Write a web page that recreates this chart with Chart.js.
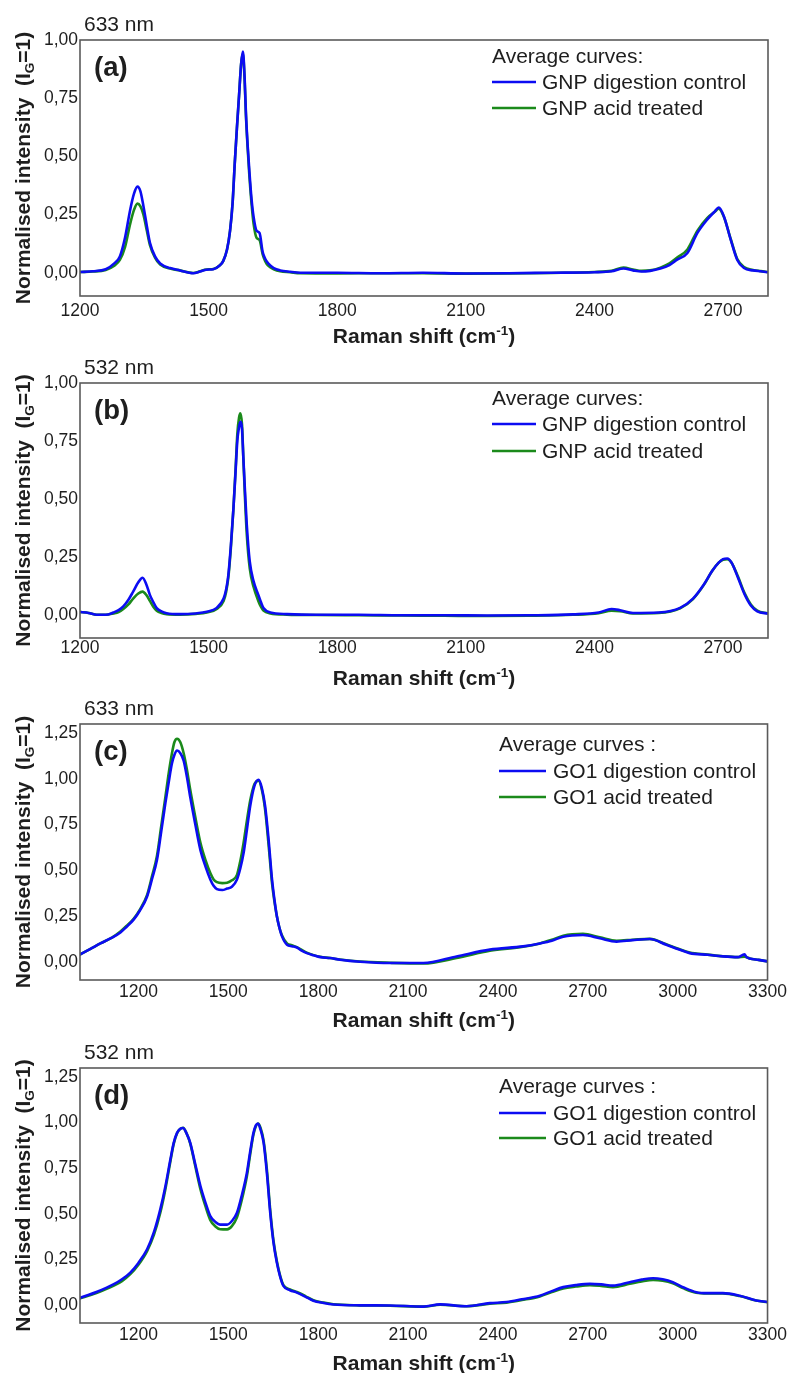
<!DOCTYPE html>
<html>
<head>
<meta charset="utf-8">
<script src="https://cdn.jsdelivr.net/npm/chart.js@4/dist/chart.umd.min.js"></script>
<style>
body { margin: 0; background: #fff; }
#wrap { position: relative; width: 789px; height: 1373px; }
canvas { position: absolute; left: 0; }
</style>
</head>
<body>
<div id="wrap">
<canvas id="chart_a" width="789" height="352" style="top:0px"></canvas>
<canvas id="chart_b" width="789" height="352" style="top:343px"></canvas>
<canvas id="chart_c" width="789" height="352" style="top:684px"></canvas>
<canvas id="chart_d" width="789" height="345" style="top:1028px"></canvas>
</div>
<script>
// tick labels
const xTicksGNP = [1200, 1500, 1800, 2100, 2400, 2700];
const xTicksGO = [1200, 1500, 1800, 2100, 2400, 2700, 3000, 3300];
const yTicksGNP = [0, 0.25, 0.5, 0.75, 1.0];
const yTicksGO = [0, 0.25, 0.5, 0.75, 1.0, 1.25];

// (a) 633 nm, GNP
const shiftA = [1200, 1230, 1260, 1280, 1293, 1305, 1317, 1326, 1334, 1341, 1348, 1356, 1363, 1375, 1387, 1410, 1433, 1464, 1480, 1495, 1511, 1525, 1534, 1543, 1550, 1556, 1561, 1566, 1571, 1576, 1580, 1584, 1587, 1591, 1595, 1600, 1605, 1612, 1619, 1626, 1632, 1639, 1652, 1667, 1690, 1714, 1800, 1900, 2000, 2100, 2200, 2300, 2400, 2440, 2468, 2490, 2510, 2530, 2554, 2575, 2593, 2617, 2640, 2663, 2681, 2690, 2702, 2718, 2733, 2749, 2770, 2788, 2805];
const controlA = [0.003, 0.006, 0.015, 0.04, 0.07, 0.15, 0.27, 0.34, 0.37, 0.35, 0.286, 0.2, 0.13, 0.07, 0.04, 0.02, 0.01, -0.002, 0.005, 0.013, 0.015, 0.03, 0.05, 0.1, 0.18, 0.3, 0.47, 0.62, 0.76, 0.9, 0.95, 0.84, 0.69, 0.55, 0.44, 0.32, 0.24, 0.18, 0.17, 0.09, 0.06, 0.04, 0.02, 0.01, 0.004, 0.0, 0.0, -0.002, 0.0, -0.003, -0.002, 0.0, 0.002, 0.006, 0.018, 0.01, 0.005, 0.008, 0.018, 0.033, 0.056, 0.085, 0.17, 0.228, 0.264, 0.28, 0.243, 0.142, 0.056, 0.02, 0.01, 0.006, 0.002];
const acidA = [0.003, 0.005, 0.012, 0.03, 0.055, 0.11, 0.21, 0.27, 0.297, 0.285, 0.25, 0.18, 0.12, 0.065, 0.035, 0.018, 0.01, -0.001, 0.006, 0.014, 0.016, 0.03, 0.05, 0.1, 0.18, 0.3, 0.47, 0.62, 0.76, 0.9, 0.94, 0.83, 0.68, 0.54, 0.42, 0.3, 0.21, 0.15, 0.14, 0.08, 0.05, 0.03, 0.015, 0.006, 0.002, -0.002, -0.003, -0.002, -0.002, -0.004, -0.003, -0.001, 0.003, 0.008, 0.022, 0.014, 0.008, 0.01, 0.022, 0.04, 0.065, 0.1, 0.18, 0.235, 0.262, 0.275, 0.24, 0.145, 0.06, 0.024, 0.012, 0.007, 0.003];

// (b) 532 nm, GNP
const shiftB = [1200, 1220, 1239, 1260, 1278, 1290, 1301, 1313, 1324, 1336, 1346, 1355, 1363, 1371, 1379, 1390, 1402, 1433, 1470, 1496, 1519, 1535, 1541, 1546, 1552, 1558, 1563, 1567, 1571, 1574, 1578, 1581, 1585, 1589, 1596, 1605, 1616, 1622, 1628, 1644, 1683, 1750, 1850, 1950, 2050, 2150, 2250, 2350, 2410, 2440, 2460, 2490, 2550, 2600, 2630, 2655, 2675, 2690, 2700, 2710, 2720, 2735, 2750, 2765, 2780, 2805];
const controlB = [0.012, 0.008, 0.0, 0.0, 0.01, 0.02, 0.036, 0.065, 0.1, 0.14, 0.16, 0.13, 0.086, 0.055, 0.029, 0.015, 0.007, 0.003, 0.006, 0.013, 0.03, 0.07, 0.11, 0.17, 0.3, 0.46, 0.62, 0.75, 0.81, 0.833, 0.8, 0.68, 0.53, 0.39, 0.23, 0.144, 0.086, 0.055, 0.029, 0.01, 0.003, 0.0, 0.0, -0.002, -0.002, -0.003, -0.002, 0.002, 0.01, 0.025, 0.02, 0.008, 0.01, 0.03, 0.07, 0.13, 0.19, 0.225, 0.24, 0.243, 0.225, 0.16, 0.09, 0.04, 0.015, 0.005];
const acidB = [0.012, 0.008, 0.0, 0.0, 0.006, 0.012, 0.025, 0.045, 0.07, 0.092, 0.1, 0.085, 0.06, 0.035, 0.018, 0.008, 0.003, 0.001, 0.004, 0.01, 0.025, 0.06, 0.1, 0.16, 0.29, 0.46, 0.63, 0.78, 0.85, 0.869, 0.82, 0.68, 0.5, 0.35, 0.2, 0.12, 0.06, 0.035, 0.018, 0.006, 0.001, -0.001, -0.002, -0.003, -0.004, -0.005, -0.004, 0.0, 0.007, 0.018, 0.016, 0.006, 0.008, 0.028, 0.068, 0.128, 0.19, 0.225, 0.238, 0.24, 0.225, 0.165, 0.095, 0.045, 0.018, 0.006];

// (c) 633 nm, GO1
const shiftC = [1000, 1040, 1073, 1110, 1140, 1160, 1184, 1205, 1229, 1245, 1262, 1276, 1290, 1301, 1312, 1320, 1329, 1340, 1351, 1362, 1373, 1390, 1407, 1424, 1440, 1451, 1462, 1480, 1496, 1512, 1529, 1540, 1551, 1562, 1573, 1587, 1601, 1612, 1623, 1635, 1646, 1654, 1662, 1670, 1679, 1696, 1712, 1729, 1745, 1762, 1785, 1807, 1840, 1873, 1940, 2040, 2151, 2262, 2373, 2484, 2540, 2580, 2618, 2684, 2740, 2796, 2850, 2907, 2962, 3000, 3040, 3100, 3151, 3200, 3223, 3230, 3240, 3270, 3300];
const controlC = [0.035, 0.07, 0.1, 0.13, 0.16, 0.19, 0.23, 0.28, 0.357, 0.45, 0.557, 0.71, 0.867, 0.98, 1.085, 1.13, 1.155, 1.14, 1.1, 1.01, 0.9, 0.75, 0.61, 0.52, 0.45, 0.415, 0.397, 0.392, 0.4, 0.41, 0.45, 0.51, 0.594, 0.72, 0.85, 0.96, 0.995, 0.95, 0.85, 0.66, 0.45, 0.34, 0.25, 0.19, 0.14, 0.093, 0.085, 0.078, 0.06, 0.047, 0.035, 0.025, 0.02, 0.011, 0.0, -0.007, -0.007, 0.029, 0.066, 0.084, 0.1, 0.115, 0.137, 0.146, 0.128, 0.11, 0.118, 0.124, 0.093, 0.07, 0.047, 0.038, 0.029, 0.025, 0.04, 0.025, 0.018, 0.01, 0.002];
const acidC = [0.035, 0.07, 0.1, 0.13, 0.165, 0.195, 0.235, 0.285, 0.365, 0.465, 0.58, 0.74, 0.9, 1.03, 1.14, 1.2, 1.219, 1.2, 1.14, 1.05, 0.94, 0.79, 0.65, 0.555, 0.485, 0.45, 0.435, 0.43, 0.432, 0.445, 0.475, 0.55, 0.65, 0.77, 0.88, 0.97, 0.99, 0.94, 0.83, 0.63, 0.43, 0.33, 0.25, 0.19, 0.145, 0.1, 0.09, 0.08, 0.065, 0.05, 0.036, 0.027, 0.02, 0.012, 0.001, -0.006, -0.01, 0.02, 0.06, 0.082, 0.1, 0.12, 0.142, 0.152, 0.134, 0.115, 0.12, 0.125, 0.095, 0.072, 0.05, 0.039, 0.03, 0.025, 0.027, 0.025, 0.018, 0.01, 0.002];

// (d) 532 nm, GO1
const shiftD = [1000, 1060, 1118, 1145, 1173, 1200, 1229, 1252, 1273, 1290, 1307, 1318, 1329, 1339, 1349, 1361, 1373, 1390, 1407, 1424, 1440, 1457, 1473, 1496, 1512, 1529, 1545, 1562, 1573, 1584, 1592, 1599, 1608, 1618, 1629, 1640, 1651, 1662, 1673, 1684, 1706, 1729, 1757, 1784, 1818, 1851, 1940, 2040, 2151, 2207, 2296, 2373, 2429, 2480, 2540, 2580, 2618, 2660, 2707, 2745, 2784, 2840, 2880, 2918, 2950, 2984, 3020, 3062, 3100, 3151, 3207, 3262, 3300];
const controlD = [0.035, 0.07, 0.113, 0.14, 0.177, 0.23, 0.305, 0.4, 0.524, 0.65, 0.8, 0.89, 0.944, 0.965, 0.971, 0.94, 0.889, 0.77, 0.652, 0.56, 0.487, 0.455, 0.44, 0.44, 0.46, 0.505, 0.6, 0.724, 0.84, 0.944, 0.985, 0.995, 0.96, 0.889, 0.72, 0.505, 0.34, 0.232, 0.155, 0.104, 0.08, 0.067, 0.045, 0.022, 0.01, 0.002, -0.003, -0.004, -0.01, 0.002, -0.008, 0.009, 0.015, 0.03, 0.05, 0.075, 0.097, 0.108, 0.115, 0.112, 0.105, 0.124, 0.138, 0.146, 0.14, 0.124, 0.095, 0.069, 0.064, 0.064, 0.05, 0.024, 0.015];
const acidD = [0.033, 0.065, 0.105, 0.13, 0.168, 0.22, 0.295, 0.385, 0.505, 0.635, 0.79, 0.885, 0.942, 0.965, 0.972, 0.94, 0.885, 0.76, 0.635, 0.54, 0.465, 0.43, 0.415, 0.414, 0.432, 0.48, 0.575, 0.705, 0.825, 0.935, 0.98, 0.995, 0.97, 0.9, 0.74, 0.52, 0.35, 0.24, 0.16, 0.108, 0.085, 0.07, 0.048, 0.025, 0.012, 0.003, -0.003, -0.005, -0.01, 0.0, -0.008, 0.006, 0.012, 0.026, 0.046, 0.07, 0.09, 0.1, 0.108, 0.104, 0.097, 0.115, 0.128, 0.136, 0.132, 0.118, 0.09, 0.066, 0.062, 0.062, 0.048, 0.023, 0.014];

const FONT = '"Liberation Sans", Arial, sans-serif';
const INK = '#1e1e1e';
const BLUE = '#0c0cf2';
const GREEN = '#1b8a1b';

const toPoints = (xs, ys) => xs.map((x, i) => ({ x: x, y: ys[i] }));
const fmtComma = v => v.toFixed(2).replace('.', ',');

// frame, panel letters, legend inside the plot, axis titles with sub/superscript
const panelDecor = {
    id: 'panelDecor',
    afterDatasetsDraw(chart, args, opts) {
        const ctx = chart.ctx;
        const a = chart.chartArea;
        ctx.save();

        ctx.strokeStyle = '#5a5a5a';
        ctx.lineWidth = 1.6;
        ctx.strokeRect(a.left, a.top, a.right - a.left, a.bottom - a.top);

        ctx.fillStyle = INK;
        ctx.textBaseline = 'middle';
        ctx.textAlign = 'left';
        ctx.font = '21px ' + FONT;
        ctx.fillText(opts.laser, a.left + 4, a.top + opts.laserDy);

        ctx.font = 'bold 27.5px ' + FONT;
        ctx.fillText(opts.letter, a.left + 14, a.top + opts.letterDy);

        // legend
        const lg = opts.legend;
        ctx.font = '21px ' + FONT;
        ctx.fillText(lg.title, lg.x, a.top + lg.dy[0]);
        chart.data.datasets.forEach((ds, i) => {
            const y = a.top + lg.dy[i + 1];
            ctx.strokeStyle = ds.borderColor;
            ctx.lineWidth = 2.4;
            ctx.beginPath();
            ctx.moveTo(lg.x, y);
            ctx.lineTo(lg.x + lg.swatch, y);
            ctx.stroke();
            ctx.fillText(ds.label, lg.textX, y + 1);
        });

        // x title: Raman shift (cm-1)
        ctx.textBaseline = 'alphabetic';
        const xb = a.bottom + opts.xTitleDy + 7;
        const big = 'bold 21px ' + FONT, small = 'bold 13.5px ' + FONT;
        ctx.font = big;
        const w1 = ctx.measureText('Raman shift (cm').width;
        const w3 = ctx.measureText(')').width;
        ctx.font = small;
        const w2 = ctx.measureText('-1').width;
        let x0 = (a.left + a.right) / 2 - (w1 + w2 + w3) / 2;
        ctx.font = big;
        ctx.fillText('Raman shift (cm', x0, xb);
        ctx.font = small;
        ctx.fillText('-1', x0 + w1, xb - 8);
        ctx.font = big;
        ctx.fillText(')', x0 + w1 + w2, xb);

        // y title: Normalised intensity (I_G=1)
        ctx.translate(29.5, (a.top + a.bottom) / 2);
        ctx.rotate(-Math.PI / 2);
        ctx.font = big;
        const t1 = 'Normalised intensity  (I';
        const u1 = ctx.measureText(t1).width;
        const u3 = ctx.measureText('=1)').width;
        ctx.font = small;
        const u2 = ctx.measureText('G').width;
        const s0 = -(u1 + u2 + u3) / 2;
        ctx.font = big;
        ctx.fillText(t1, s0, 0);
        ctx.font = small;
        ctx.fillText('G', s0 + u1, 4);
        ctx.font = big;
        ctx.fillText('=1)', s0 + u1 + u2, 0);

        ctx.restore();
    }
};

function makePanel(id, cfg) {
    const canvas = document.getElementById(id);
    const top = parseInt(canvas.style.top);
    const h = canvas.height;
    new Chart(canvas, {
        type: 'line',
        data: {
            datasets: [
                { label: cfg.names[0], data: toPoints(cfg.shift, cfg.control), borderColor: BLUE, backgroundColor: BLUE },
                { label: cfg.names[1], data: toPoints(cfg.shift, cfg.acid), borderColor: GREEN, backgroundColor: GREEN }
            ]
        },
        options: {
            responsive: false,
            animation: false,
            devicePixelRatio: 1,
            elements: {
                point: { radius: 0 },
                line: { borderWidth: 2.6, cubicInterpolationMode: 'monotone', fill: false }
            },
            layout: { padding: { top: cfg.plotTop - top, right: 21, left: 0, bottom: 0 } },
            scales: {
                x: {
                    type: 'linear',
                    min: cfg.xMin,
                    max: cfg.xMax,
                    grid: { display: false, drawTicks: false },
                    border: { display: false },
                    afterBuildTicks: s => { s.ticks = cfg.xTicks.map(v => ({ value: v })); },
                    afterFit: s => { s.height = top + h - cfg.plotBottom; },
                    ticks: {
                        autoSkip: false, maxRotation: 0, padding: cfg.xTickPad,
                        color: INK, font: { family: FONT, size: 17.5 },
                        callback: v => String(v)
                    }
                },
                y: {
                    min: -0.1,
                    max: cfg.yMax,
                    grid: { display: false, drawTicks: false },
                    border: { display: false },
                    afterBuildTicks: s => { s.ticks = cfg.yTicks.map(v => ({ value: v })); },
                    afterFit: s => { s.width = 80; },
                    ticks: {
                        autoSkip: false, padding: 2,
                        color: INK, font: { family: FONT, size: 17.5 },
                        callback: v => fmtComma(v)
                    }
                }
            },
            plugins: {
                legend: { display: false },
                tooltip: { enabled: false },
                panelDecor: {
                    laser: cfg.laser, laserDy: -15,
                    letter: cfg.letter, letterDy: 28,
                    xTitleDy: 40,
                    legend: cfg.legend
                }
            }
        },
        plugins: [panelDecor]
    });
}

const namesGNP = ['GNP digestion control', 'GNP acid treated'];
const namesGO = ['GO1 digestion control', 'GO1 acid treated'];

makePanel('chart_a', {
    shift: shiftA, control: controlA, acid: acidA, names: namesGNP,
    laser: '633 nm', letter: '(a)', plotTop: 40, plotBottom: 296,
    xMin: 1200, xMax: 2805, xTicks: xTicksGNP, yMax: 1.0, yTicks: yTicksGNP, xTickPad: 5,
    legend: { title: 'Average curves:', x: 492, swatch: 44, textX: 542, dy: [17, 42, 68] }
});
makePanel('chart_b', {
    shift: shiftB, control: controlB, acid: acidB, names: namesGNP,
    laser: '532 nm', letter: '(b)', plotTop: 383, plotBottom: 638,
    xMin: 1200, xMax: 2805, xTicks: xTicksGNP, yMax: 1.0, yTicks: yTicksGNP, xTickPad: 0,
    legend: { title: 'Average curves:', x: 492, swatch: 44, textX: 542, dy: [16, 41, 68] }
});
makePanel('chart_c', {
    shift: shiftC, control: controlC, acid: acidC, names: namesGO,
    laser: '633 nm', letter: '(c)', plotTop: 724, plotBottom: 980,
    xMin: 1005, xMax: 3300, xTicks: xTicksGO, yMax: 1.3, yTicks: yTicksGO, xTickPad: 2,
    legend: { title: 'Average curves :', x: 499, swatch: 47, textX: 553, dy: [21, 47, 73] }
});
makePanel('chart_d', {
    shift: shiftD, control: controlD, acid: acidD, names: namesGO,
    laser: '532 nm', letter: '(d)', plotTop: 1068, plotBottom: 1323,
    xMin: 1005, xMax: 3300, xTicks: xTicksGO, yMax: 1.3, yTicks: yTicksGO, xTickPad: 2,
    legend: { title: 'Average curves :', x: 499, swatch: 47, textX: 553, dy: [19, 45, 70] }
});
</script>
</body>
</html>
